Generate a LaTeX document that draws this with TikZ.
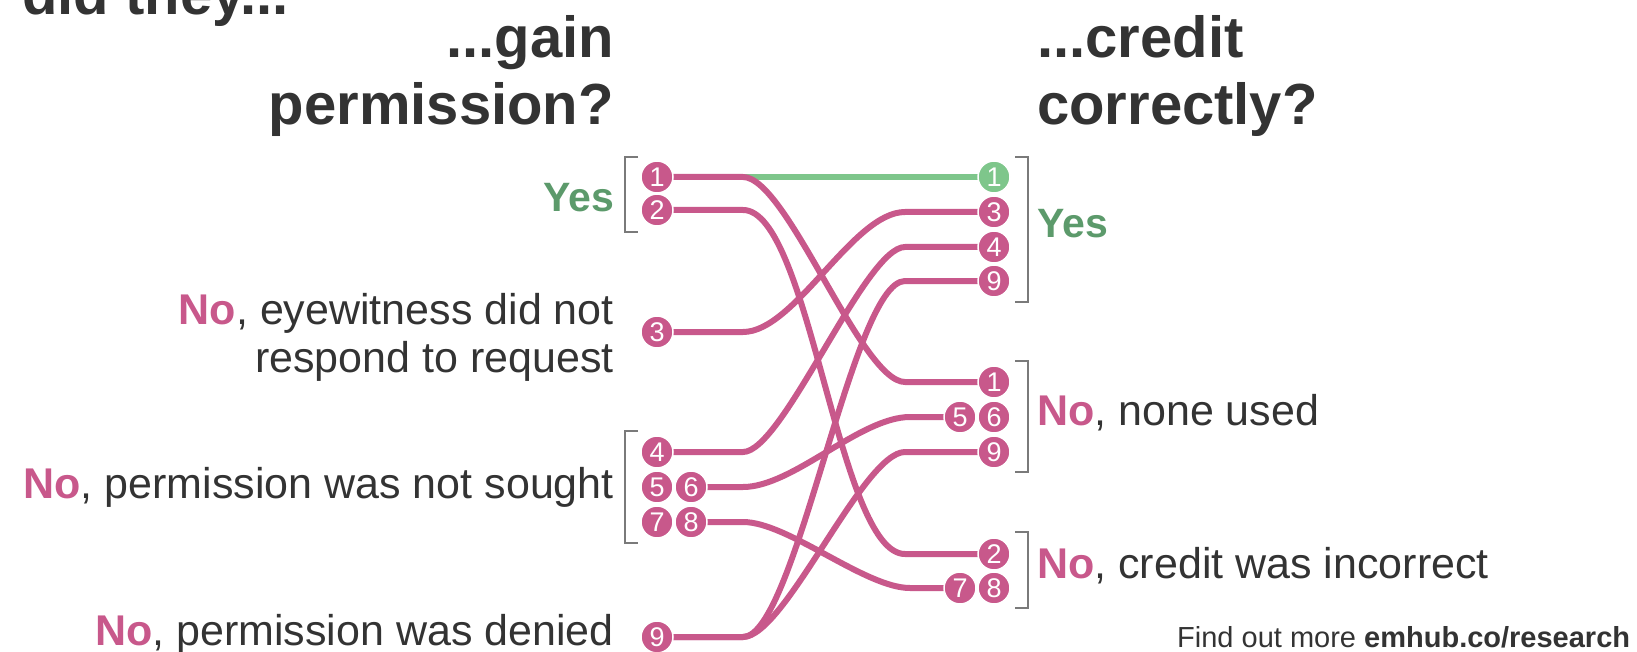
\documentclass[tikz,border=0pt]{standalone}
\usepackage{fontspec}
\setmainfont{Liberation Sans}
\definecolor{cpink}{HTML}{C8588B}
\definecolor{cgreenline}{HTML}{7EC68B}
\definecolor{cgreentext}{HTML}{5C9A6B}
\definecolor{cdark}{HTML}{333333}
\definecolor{cbrk}{HTML}{7A7A7A}
\pgfdeclarelayer{bg}
\pgfsetlayers{bg,main}
\tikzset{
  num/.style={circle, fill=cpink, draw=white, line width=1.5pt, minimum size=32pt, inner sep=0pt,
    text=white, font=\fontsize{27}{27}\selectfont},
  numg/.style={num, fill=cgreenline},
  link/.style={draw=cpink, line width=6pt},
  glink/.style={draw=cgreenline, line width=6pt},
  brk/.style={draw=cbrk, line width=1.5pt},
  title/.style={text=cdark, font=\fontsize{58}{58}\selectfont\bfseries, inner sep=0pt},
  body/.style={text=cdark, font=\fontsize{43}{43}\selectfont, inner sep=0pt},
  foot/.style={text=cdark, font=\fontsize{29}{29}\selectfont, inner sep=0pt},
}
\newcommand{\nopart}{\textcolor{cpink}{\bfseries No}}
\begin{document}
\begin{tikzpicture}[x=1pt,y=-1pt]
\useasboundingbox (0,0) rectangle (1637,652);

% titles
\node[title, anchor=base west] (t0) at (22,15) {did they...};
\node[title, anchor=base east] (t1) at (614,58) {...gain};
\node[title, anchor=base east] (t2) at (614,125) {permission?};
\node[title, anchor=base west] (t3) at (1037,58) {...credit};
\node[title, anchor=base west] (t4) at (1037,125) {correctly?};

% left labels
\node[body, anchor=base east, text=cgreentext, font=\fontsize{41}{41}\selectfont\bfseries] (ly) at (614,212) {Yes};
\node[body, anchor=base east] (le1) at (614,324) {\nopart, eyewitness did not};
\node[body, anchor=base east] (le2) at (614,372) {respond to request};
\node[body, anchor=base east] (ls) at (614,498) {\nopart, permission was not sought};
\node[body, anchor=base east] (ld) at (614,645) {\nopart, permission was denied};

% right labels
\node[body, anchor=base west, text=cgreentext, font=\fontsize{41}{41}\selectfont\bfseries] (ry) at (1037,237) {Yes};
\node[body, anchor=base west] (rn) at (1037,425) {\nopart, none used};
\node[body, anchor=base west] (ri) at (1037,578) {\nopart, credit was incorrect};

\node[foot, anchor=base west] (ft) at (1177,647) {Find out more \textbf{emhub.co/research}};

% brackets
\draw[brk] (638,157) -| (625,232) -- (638,232);
\draw[brk] (638,431) -| (625,543) -- (638,543);
\draw[brk] (1015,157) -| (1028,302) -- (1015,302);
\draw[brk] (1015,361) -| (1028,472) -- (1015,472);
\draw[brk] (1015,532) -| (1028,608) -- (1015,608);

% left circles
\node[num] (L1) at (657,177) {1};
\node[num] (L2) at (657,210) {2};
\node[num] (L3) at (657,332) {3};
\node[num] (L4) at (657,452) {4};
\node[num] (L5) at (657,487) {5};
\node[num] (L6) at (691,487) {6};
\node[num] (L7) at (657,522) {7};
\node[num] (L8) at (691,522) {8};
\node[num] (L9) at (657,637) {9};

% right circles
\node[numg] (R1y) at (994,177) {1};
\node[num] (R3) at (994,212) {3};
\node[num] (R4) at (994,247) {4};
\node[num] (R9y) at (994,281) {9};
\node[num] (R1n) at (994,382) {1};
\node[num] (R5) at (960,417) {5};
\node[num] (R6) at (994,417) {6};
\node[num] (R9n) at (994,452) {9};
\node[num] (R2) at (994,554) {2};
\node[num] (R7) at (960,588) {7};
\node[num] (R8) at (994,588) {8};

\begin{pgfonlayer}{bg}
\draw[glink] (L1.center) -- (R1y.center);
\draw[link] (L1.center) -- (743,177) .. controls (787,177) and (861,382) .. (905,382) -- (R1n.center);
\draw[link] (L2.center) -- (743,210) .. controls (810,210) and (838,554) .. (905,554) -- (R2.center);
\draw[link] (L3.center) -- (743,332) .. controls (795,332) and (853,212) .. (905,212) -- (R3.center);
\draw[link] (L4.center) -- (743,452) .. controls (783,452) and (865,247) .. (905,247) -- (R4.center);
\draw[link] (L6.center) -- (743,487) .. controls (793,487) and (860,417) .. (910,417) -- (R5.center);
\draw[link] (L8.center) -- (743,522) .. controls (788,522) and (865,588) .. (910,588) -- (R7.center);
\draw[link] (L9.center) -- (743,637) .. controls (796,637) and (852,281) .. (905,281) -- (R9y.center);
\draw[link] (L9.center) -- (743,637) .. controls (785,637) and (863,452) .. (905,452) -- (R9n.center);
\end{pgfonlayer}
\end{tikzpicture}
\end{document}
